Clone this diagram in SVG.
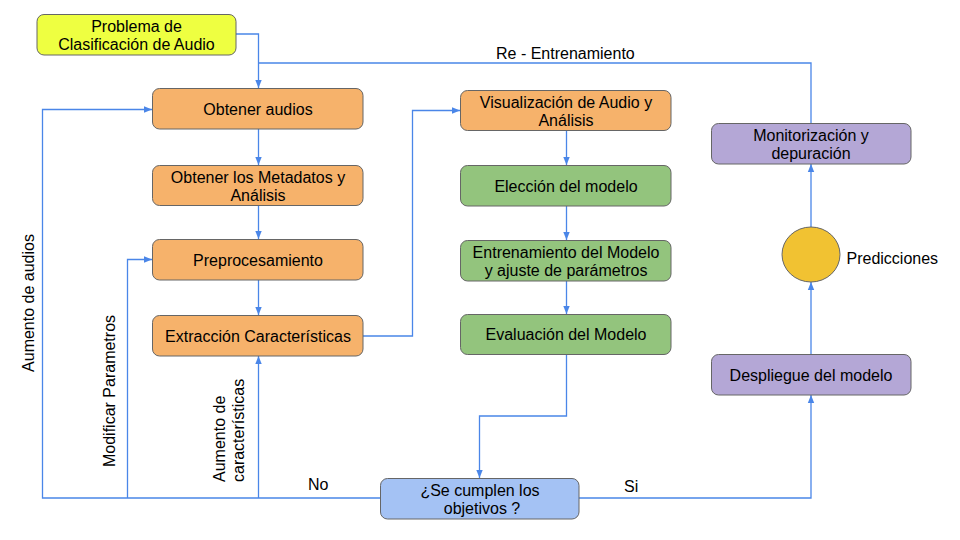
<svg xmlns="http://www.w3.org/2000/svg" width="960" height="540" viewBox="0 0 960 540">
<style>
.n{stroke:#666;stroke-width:1}
.t{font-family:"Liberation Sans",Arial,sans-serif;font-size:16px;fill:#000}
.m{text-anchor:middle}
.c{fill:none;stroke:#4a86e8;stroke-width:1.3}
</style>
<defs>
<marker id="a" viewBox="0 0 10 10" refX="10" refY="5" markerWidth="8" markerHeight="8" markerUnits="userSpaceOnUse" orient="auto">
<path d="M0,1 L10,5 L0,9 z" fill="#4a86e8"/>
</marker>
</defs>
<rect width="960" height="540" fill="#fff"/>
<g id="connectors">
<path class="c" d="M236,34 H258.5 V88" marker-end="url(#a)"/>
<path class="c" d="M258.5,129 V165" marker-end="url(#a)"/>
<path class="c" d="M258.5,205 V239" marker-end="url(#a)"/>
<path class="c" d="M258.5,280 V315" marker-end="url(#a)"/>
<path class="c" d="M363,336 H412.5 V110.5 H460" marker-end="url(#a)"/>
<path class="c" d="M566.5,130 V165" marker-end="url(#a)"/>
<path class="c" d="M566.5,206 V240" marker-end="url(#a)"/>
<path class="c" d="M566.5,281 V314" marker-end="url(#a)"/>
<path class="c" d="M566.5,354 V416 H479.5 V478" marker-end="url(#a)"/>
<path class="c" d="M380.5,498 H42.5 V109.5 H152" marker-end="url(#a)"/>
<path class="c" d="M127.5,498 V259.5 H152" marker-end="url(#a)"/>
<path class="c" d="M258.5,498 V356" marker-end="url(#a)"/>
<path class="c" d="M579,498 H811 V395" marker-end="url(#a)"/>
<path class="c" d="M811,354 V282" marker-end="url(#a)"/>
<path class="c" d="M811,227 V164" marker-end="url(#a)"/>
<path class="c" d="M811,123 V63 H258.5"/>
</g>
<g id="n-problema">
<rect class="n" x="37" y="14.5" width="199" height="40.5" rx="7" fill="#eeff41"/>
<text class="t m" x="136.5" y="31.5">Problema de</text>
<text class="t m" x="136.5" y="50">Clasificación de Audio</text>
</g>
<g id="n-obtener">
<rect class="n" x="152.5" y="88.5" width="210.5" height="40.5" rx="7" fill="#f6b26b"/>
<text class="t m" x="258" y="114.5">Obtener audios</text>
</g>
<g id="n-metadatos">
<rect class="n" x="152.5" y="165.5" width="210.5" height="40" rx="7" fill="#f6b26b"/>
<text class="t m" x="258" y="182.5">Obtener los Metadatos y</text>
<text class="t m" x="258" y="201">Análisis</text>
</g>
<g id="n-preproc">
<rect class="n" x="152.5" y="239.5" width="210.5" height="40.5" rx="7" fill="#f6b26b"/>
<text class="t m" x="258" y="265.5">Preprocesamiento</text>
</g>
<g id="n-extraccion">
<rect class="n" x="152.5" y="315.5" width="210.5" height="40.5" rx="7" fill="#f6b26b"/>
<text class="t m" x="258" y="341.5">Extracción Características</text>
</g>
<g id="n-visualizacion">
<rect class="n" x="460.5" y="90.5" width="210.5" height="40" rx="7" fill="#f6b26b"/>
<text class="t m" x="566" y="107.5">Visualización de Audio y</text>
<text class="t m" x="566" y="126">Análisis</text>
</g>
<g id="n-eleccion">
<rect class="n" x="460.5" y="165.5" width="210.5" height="40.5" rx="7" fill="#93c47d"/>
<text class="t m" x="566" y="191.5">Elección del modelo</text>
</g>
<g id="n-entrenamiento">
<rect class="n" x="460.5" y="240.5" width="210.5" height="40.5" rx="7" fill="#93c47d"/>
<text class="t m" x="566" y="257.5">Entrenamiento del Modelo</text>
<text class="t m" x="566" y="276">y ajuste de parámetros</text>
</g>
<g id="n-evaluacion">
<rect class="n" x="460.5" y="314.5" width="210.5" height="40" rx="7" fill="#93c47d"/>
<text class="t m" x="566" y="340">Evaluación del Modelo</text>
</g>
<g id="n-decision">
<rect class="n" x="380.5" y="478.5" width="198.5" height="40.5" rx="7" fill="#a4c2f4"/>
<text class="t m" x="480" y="495.5">¿Se cumplen los</text>
<text class="t m" x="482" y="514">objetivos ?</text>
</g>
<g id="n-despliegue">
<rect class="n" x="711.5" y="354.5" width="199.5" height="40.5" rx="7" fill="#b4a7d6"/>
<text class="t m" x="811" y="380.5">Despliegue del modelo</text>
</g>
<g id="n-predicciones">
<ellipse class="n" cx="811" cy="254.5" rx="29" ry="27.5" fill="#f1c232"/>
<text class="t" x="846.5" y="264">Predicciones</text>
</g>
<g id="n-monitorizacion">
<rect class="n" x="711.5" y="123.5" width="199.5" height="40.5" rx="7" fill="#b4a7d6"/>
<text class="t m" x="811" y="140.5">Monitorización y</text>
<text class="t m" x="811" y="159">depuración</text>
</g>
<g id="labels">
<text class="t" x="496" y="59">Re - Entrenamiento</text>
<text class="t" x="308" y="490">No</text>
<text class="t" x="624" y="492">Si</text>
<text class="t m" transform="translate(34,303) rotate(-90)">Aumento de audios</text>
<text class="t m" transform="translate(114.5,391) rotate(-90)">Modificar Parametros</text>
<text class="t" transform="translate(225,482) rotate(-90)">Aumento de</text>
<text class="t" transform="translate(243.5,482) rotate(-90)">características</text>
</g>
</svg>
